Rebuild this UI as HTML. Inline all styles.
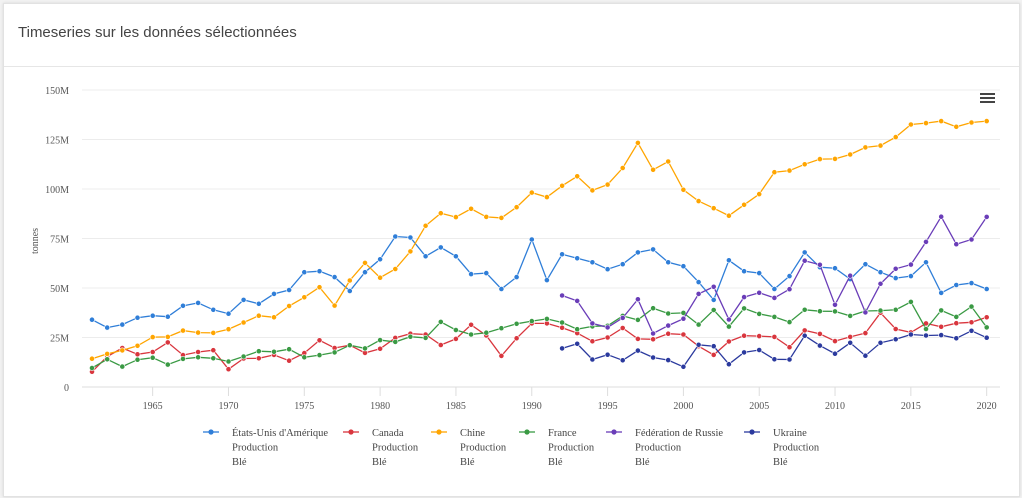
<!DOCTYPE html>
<html><head><meta charset="utf-8"><style>
body{margin:0;background:#f2f2f2;width:1022px;height:498px;overflow:hidden}
.card{position:absolute;left:3px;top:3px;width:1015px;height:492px;background:#fff;border:1px solid #e2e2e2;box-shadow:0 0 3px rgba(0,0,0,.1)}
.title{position:absolute;left:14px;top:20px;font:15px "Liberation Sans",sans-serif;color:#444}
.sep{position:absolute;left:0;top:62px;width:100%;height:1px;background:#e6e6e6}
svg{position:absolute;left:0;top:0}
</style></head><body>
<div class="card"><div class="title">Timeseries sur les données sélectionnées</div><div class="sep"></div></div>
<svg id="s" width="1022" height="498" font-family="Liberation Serif, serif"></svg>
<script>
const D={
us:["#2f7ed8",1961,[34,30,31.5,35,36,35.5,41,42.5,39,37,44,42,47,49,58,58.5,55.5,48.5,58,64.5,76,75.5,66,70.5,66,57,57.5,49.5,55.5,74.5,54,67,65,63,59.5,62,68,69.5,63,61,53,44,64,58.5,57.5,49.5,56,68,60.5,60,54.5,62,58,55,56,63,47.5,51.5,52.5,49.5]],
ca:["#d9363e",1961,[7.7,15.4,19.7,16.5,17.7,22.5,16.1,17.7,18.6,9,14.4,14.5,16.2,13.3,17.1,23.6,19.7,21.1,17.2,19.3,24.8,26.9,26.5,21.2,24.3,31.4,26,15.7,24.6,32.1,32.1,29.9,27.2,23.1,25,29.8,24.3,24.1,26.9,26.5,20.6,16.2,23,25.9,25.7,25.3,20.1,28.6,26.8,23.2,25.3,27.2,37.5,29.3,27.6,32.1,30.4,32.2,32.7,35.2]],
cn:["#ffa500",1961,[14.3,16.7,18.5,20.8,25.2,25.3,28.5,27.5,27.3,29.2,32.6,36,35.2,40.9,45.3,50.4,41.1,53.8,62.7,55.2,59.6,68.5,81.4,87.8,85.8,90,85.9,85.4,90.8,98.2,95.9,101.6,106.4,99.3,102.2,110.6,123.3,109.7,113.9,99.6,93.9,90.3,86.5,92,97.4,108.5,109.3,112.5,115.1,115.2,117.4,121,121.9,126.2,132.6,133.3,134.3,131.4,133.6,134.3]],
fr:["#3a9a44",1961,[9.6,14,10.3,13.8,14.8,11.3,14.2,15,14.5,12.9,15.4,18.1,17.8,19.1,15,16.1,17.5,21.1,19.5,23.7,22.8,25.4,24.8,32.9,28.8,26.5,27.4,29.7,31.9,33.3,34.4,32.6,29.2,30.6,30.9,35.9,33.9,39.8,37.1,37.4,31.5,38.9,30.5,39.7,36.9,35.4,32.8,39,38.3,38.2,35.9,38.4,38.6,39,43,29.3,38.7,35.4,40.6,30.1]],
ru:["#6a3db8",1992,[46.2,43.5,32.1,30.1,34.9,44.3,27,31,34.5,47,50.6,34.1,45.4,47.6,45,49.4,63.8,61.7,41.5,56.2,37.7,52.1,59.7,61.8,73.3,86,72.1,74.5,85.9]],
ua:["#2b3a9e",1992,[19.5,21.8,13.9,16.3,13.5,18.4,14.9,13.6,10.2,21.3,20.6,11.5,17.5,18.7,14,13.9,25.9,20.9,16.8,22.3,15.8,22.3,24.1,26.5,26,26.2,24.6,28.4,24.9]]};
const X=y=>92+(y-1961)*15.164, Y=v=>387-v*1.98;
let h='';
for(let i=0;i<=6;i++){const y=Y(i*25);h+=`<line x1="82" x2="1000" y1="${y}" y2="${y}" stroke="${i?'#ececec':'#ddd'}"/>`;
h+=`<text x="69" y="${y+4}" font-size="10" fill="#555" text-anchor="end">${i?i*25+'M':'0'}</text>`;}
for(let yr=1965;yr<=2020;yr+=5){const x=X(yr);h+=`<line x1="${x}" x2="${x}" y1="387" y2="396" stroke="#ddd"/><text x="${x}" y="409" font-size="10" fill="#555" text-anchor="middle">${yr}</text>`;}
h+=`<text transform="translate(38,241) rotate(-90)" font-size="10" fill="#555" text-anchor="middle">tonnes</text>`;
for(const k in D){const[c,s,a]=D[k];const p=a.map((v,i)=>X(s+i).toFixed(1)+','+Y(v).toFixed(1));
h+=`<polyline points="${p.join(' ')}" fill="none" stroke="${c}" stroke-width="1.3"/>`;
p.forEach(q=>{const[x,y]=q.split(',');h+=`<circle cx="${x}" cy="${y}" r="2.6" fill="${c}" stroke="#fff" stroke-width="0.6"/>`});}
h+='<g fill="#444" stroke="none"><rect x="980" y="93" width="15" height="2"/><rect x="980" y="97" width="15" height="2"/><rect x="980" y="101" width="15" height="2"/></g>';
const L=[["us",211,"États-Unis d'Amérique"],["ca",351,"Canada"],["cn",439,"Chine"],["fr",527,"France"],["ru",614,"Fédération de Russie"],["ua",752,"Ukraine"]];
L.forEach(([k,x,n])=>{const c=D[k][0];h+=`<line x1="${x-8}" x2="${x+8}" y1="432" y2="432" stroke="${c}" stroke-width="1.3"/><circle cx="${x}" cy="432" r="2.6" fill="${c}"/>`;
[n,"Production","Blé"].forEach((t,i)=>h+=`<text x="${x+21}" y="${436+i*14.5}" font-size="10.5" fill="#444">${t}</text>`);});
document.getElementById('s').innerHTML=h;
</script></body></html>
